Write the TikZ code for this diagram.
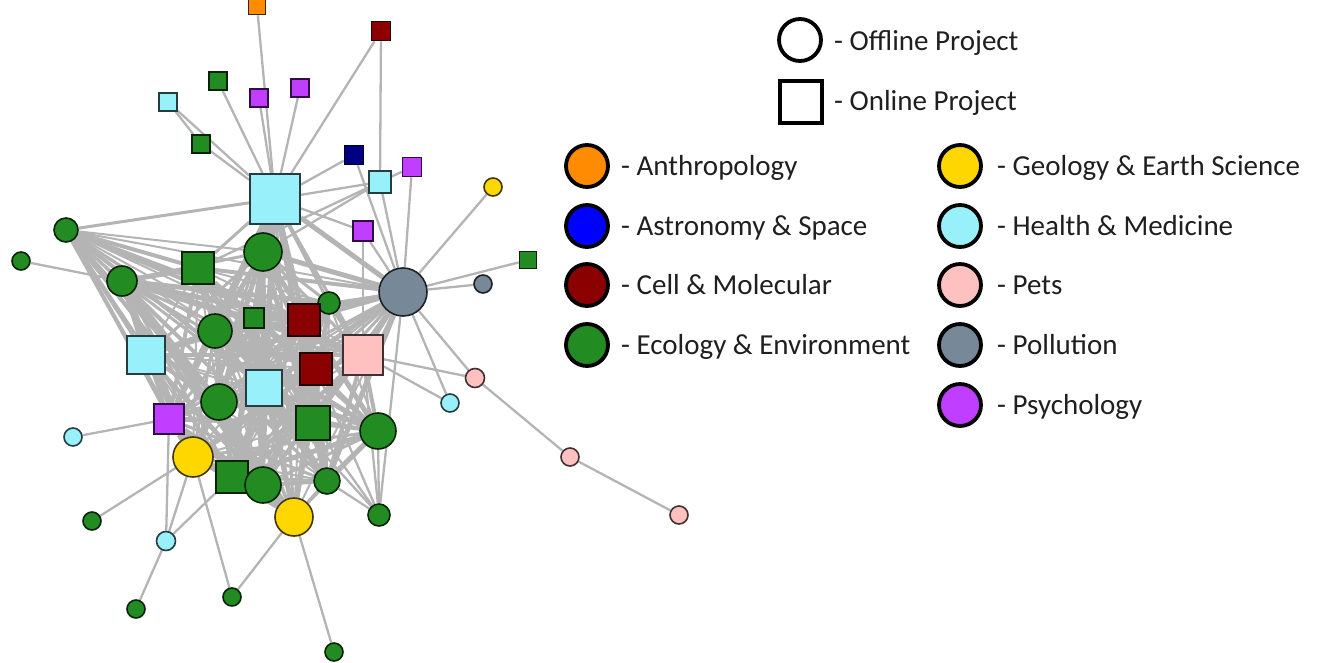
\documentclass[tikz,border=0pt]{standalone}
\usepackage{fontspec}
\setmainfont{Carlito}
\usetikzlibrary{backgrounds}
\definecolor{egray}{HTML}{B4B4B4}
\definecolor{corange}{HTML}{FF8C00}
\definecolor{cnavy}{HTML}{000080}
\definecolor{cblue}{HTML}{0000FF}
\definecolor{cdred}{HTML}{8B0000}
\definecolor{cgreen}{HTML}{228B22}
\definecolor{cgold}{HTML}{FFD700}
\definecolor{clb}{HTML}{98F0FA}
\definecolor{cpink}{HTML}{FFC0C0}
\definecolor{cgray}{HTML}{778899}
\definecolor{cpurple}{HTML}{BF3EFF}
\tikzset{
  sq/.style={rectangle, inner sep=0pt, minimum size=#1, line width=1.6pt},
  cc/.style={circle, inner sep=0pt, minimum size=#1, line width=1.6pt},
  col/.style={fill=#1, draw=#1!25!black},
  edge/.style={draw=egray, line width=2.3pt},
  legc/.style={circle, inner sep=0pt, minimum size=42, line width=3.8pt, draw=black, fill=#1},
  legs/.style={rectangle, inner sep=0pt, minimum size=42, line width=3.8pt, draw=black, fill=white},
  legt/.style={anchor=base west, inner sep=0pt, font=\fontsize{29}{34}\selectfont, text=black!88}
}
\begin{document}
\begin{tikzpicture}[x=1pt,y=-1pt]
\useasboundingbox (0,0) rectangle (1317,663);
% ---------- nodes ----------
\node[sq=17,col=corange] (orT) at (257,6) {};
\node[sq=19,col=cdred] (drT) at (381,31) {};
\node[sq=18,col=cgreen] (gsT1) at (218,81) {};
\node[sq=18,col=cpurple] (puT1) at (259,98) {};
\node[sq=18,col=cpurple] (puT2) at (300,88) {};
\node[sq=18,col=clb] (lbT) at (168,102) {};
\node[sq=18,col=cgreen] (gsT2) at (201,144) {};
\node[sq=19,col=cnavy] (nv) at (354,155) {};
\node[sq=19,col=cpurple] (puR) at (412,167) {};
\node[sq=22,col=clb] (lbS) at (380,182) {};
\node[sq=50,col=clb] (bigLB) at (275,199) {};
\node[sq=20,col=cpurple] (puM) at (363,231) {};
\node[cc=18,col=cgold] (ye3) at (493,187) {};
\node[sq=17,col=cgreen] (gsR) at (528,260) {};
\node[cc=18,col=cgray] (gyS) at (483,284) {};
\node[cc=48,col=cgray] (gy) at (403,292) {};
\node[cc=24,col=cgreen] (g1) at (66,230) {};
\node[cc=18,col=cgreen] (gsm) at (21,261) {};
\node[cc=30,col=cgreen] (g2) at (122,281) {};
\node[sq=32,col=cgreen] (gs1) at (198,268) {};
\node[cc=38,col=cgreen] (g3) at (263,252) {};
\node[cc=22,col=cgreen] (g4) at (329,303) {};
\node[sq=20,col=cgreen] (gs2) at (254,318) {};
\node[sq=32,col=cdred] (dr1) at (304,320) {};
\node[cc=34,col=cgreen] (g5) at (215,331) {};
\node[sq=38,col=clb] (lb1) at (146,355) {};
\node[sq=32,col=cdred] (dr2) at (316,369) {};
\node[sq=40,col=cpink] (pk) at (363,355) {};
\node[sq=36,col=clb] (lb2) at (264,388) {};
\node[cc=36,col=cgreen] (g6) at (219,402) {};
\node[sq=30,col=cpurple] (pu) at (169,419) {};
\node[sq=34,col=cgreen] (gs3) at (313,423) {};
\node[cc=36,col=cgreen] (g7) at (378,431) {};
\node[cc=40,col=cgold] (ye1) at (193,457) {};
\node[sq=32,col=cgreen] (gs4) at (232,477) {};
\node[cc=36,col=cgreen] (g8) at (263,485) {};
\node[cc=26,col=cgreen] (g9) at (327,481) {};
\node[cc=38,col=cgold] (ye2) at (294,517) {};
\node[cc=22,col=cgreen] (gB5) at (379,515) {};
\node[cc=18,col=clb] (lbL) at (73,437) {};
\node[cc=18,col=clb] (lbc) at (450,403) {};
\node[cc=19,col=cpink] (pk1) at (475,378) {};
\node[cc=18,col=cpink] (pk2) at (570,457) {};
\node[cc=18,col=cpink] (pk3) at (679,515) {};
\node[cc=18,col=cgreen] (gB1) at (92,521) {};
\node[cc=19,col=clb] (lbB) at (166,541) {};
\node[cc=18,col=cgreen] (gB2) at (136,609) {};
\node[cc=18,col=cgreen] (gB3) at (232,597) {};
\node[cc=18,col=cgreen] (gB4) at (334,652) {};
% ---------- edges ----------
\begin{pgfonlayer}{background}
\def\corelist{bigLB,g1,g2,gs1,g3,g4,gs2,dr1,g5,lb1,dr2,pk,lb2,g6,pu,gs3,g7,ye1,gs4,g8,g9,ye2,gy}
\foreach \a [count=\i] in \corelist {
  \foreach \b [count=\j] in \corelist {
    \ifnum\j>\i
      \pgfmathtruncatemacro\k{mod(\i*5+\j*3,7)}
      \ifnum\k>0
        \pgfmathsetmacro\w{2.0+1.0*mod(\i+\j*2,4)}
        \draw[edge, line width=\w pt] (\a) -- (\b);
      \fi
    \fi
  }
}
\foreach \a/\b in {orT/bigLB, drT/bigLB, drT/lbS, gsT1/bigLB, puT1/bigLB, puT2/bigLB,
  lbT/bigLB, lbT/gsT2, gsT2/bigLB, nv/bigLB, nv/gy, puR/lbS, puR/gy, lbS/bigLB, lbS/g3, lbS/gs1,
  lbS/gy, puM/bigLB, puM/gy, puM/pk, ye3/gy, gsR/gy, gyS/gy, gy/pk1, gy/lbc, pk/pk1, pk/lbc,
  pk1/pk2, pk2/pk3, gsm/g2, lbL/pu, pu/lbB, ye1/gB1, ye1/lbB, ye1/gB3, gs4/lbB, lbB/gB2,
  ye2/gB3, ye2/gB4, gB5/g7, gB5/gs3, gB5/g9, gB5/dr2, gB5/pk, gB5/lb2, gB5/gy}
  \draw[edge] (\a) -- (\b);
\end{pgfonlayer}
% ---------- legend ----------
\node[legc=white] (lOff) at (800,40) {};
\node[legt] (tOff) at (834,51) {- Offline Project};
\node[legs] (lOn) at (801,102) {};
\node[legt] (tOn) at (834,111) {- Online Project};
\node[legc=corange] (l1) at (587,166) {};
\node[legt] (t1) at (621,175.5) {- Anthropology};
\node[legc=cblue] (l2) at (587,226) {};
\node[legt] (t2) at (621,235.5) {- Astronomy \& Space};
\node[legc=cdred] (l3) at (587,285) {};
\node[legt] (t3) at (621,294.5) {- Cell \& Molecular};
\node[legc=cgreen] (l4) at (587,345) {};
\node[legt] (t4) at (621,354.5) {- Ecology \& Environment};
\node[legc=cgold] (r1) at (960,166) {};
\node[legt] (u1) at (997,175.5) {- Geology \& Earth Science};
\node[legc=clb] (r2) at (960,226) {};
\node[legt] (u2) at (997,235.5) {- Health \& Medicine};
\node[legc=cpink] (r3) at (960,285) {};
\node[legt] (u3) at (997,294.5) {- Pets};
\node[legc=cgray] (r4) at (960,345) {};
\node[legt] (u4) at (997,354.5) {- Pollution};
\node[legc=cpurple] (r5) at (960,405) {};
\node[legt] (u5) at (997,414.5) {- Psychology};
\end{tikzpicture}
\end{document}
